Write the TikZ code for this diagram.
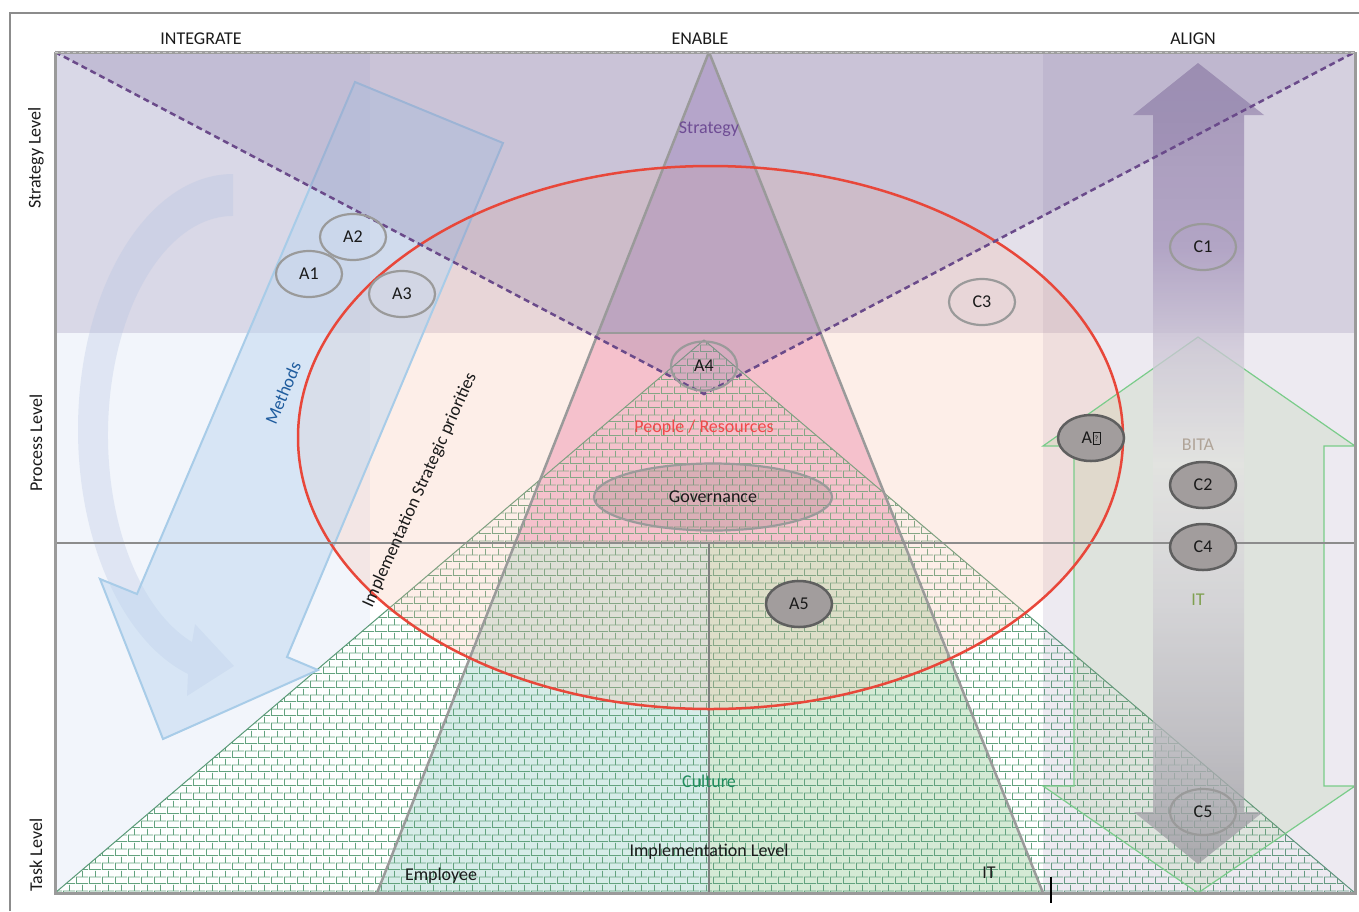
\documentclass[tikz,border=0pt]{standalone}
\usepackage{fontspec}
\setmainfont{Carlito}
\usetikzlibrary{shapes.geometric,patterns.meta}

\definecolor{vpurple}{HTML}{8070A0}
\definecolor{leftcol}{HTML}{F2F5FB}
\definecolor{stratfill}{HTML}{C7B7D9}
\definecolor{peoplefill}{HTML}{F5C4DB}
\definecolor{cultleft}{HTML}{D6ECE8}
\definecolor{cultright}{HTML}{D5EAD5}
\definecolor{brick}{HTML}{62A27E}
\definecolor{brickedge}{HTML}{5A9A78}
\definecolor{ellfill}{HTML}{F8B8A0}
\definecolor{redline}{HTML}{E8473A}
\definecolor{trapline}{HTML}{9A9A9A}
\definecolor{vdash}{HTML}{6A4A8A}
\definecolor{curvefill}{HTML}{B4C3E1}
\definecolor{methfill}{HTML}{BED7F0}
\definecolor{methline}{HTML}{A8CCE8}
\definecolor{bitafill}{HTML}{8CBE6E}
\definecolor{bitaline}{HTML}{7ACC8A}
\definecolor{ellgray}{HTML}{9A9A9A}
\definecolor{darkfill}{HTML}{A29D9D}
\definecolor{darkline}{HTML}{5F5F5F}
\definecolor{govfill}{HTML}{807070}
\definecolor{txt}{HTML}{1A1A1A}
\definecolor{strattext}{HTML}{6E4C94}
\definecolor{peopletext}{HTML}{F04A4A}
\definecolor{culttext}{HTML}{1E8C5C}
\definecolor{bitatext}{HTML}{B0A498}
\definecolor{ittext}{HTML}{7FA050}
\definecolor{methtext}{HTML}{1F5C9E}
\definecolor{ash0}{RGB}{153,150,158}
\definecolor{ash1}{RGB}{182,179,187}
\definecolor{ash2}{RGB}{210,208,213}
\definecolor{ash3}{RGB}{228,227,226}
\definecolor{ash4}{RGB}{205,198,214}
\definecolor{ash5}{RGB}{167,151,189}
\definecolor{ash6}{RGB}{150,134,172}

\pgfdeclareverticalshading{alignshade}{100bp}{color(0bp)=(ash0); color(25bp)=(ash0); color(32.5bp)=(ash1); color(41.5bp)=(ash2); color(50bp)=(ash3); color(57bp)=(ash4); color(63.5bp)=(ash5); color(75bp)=(ash6); color(100bp)=(ash6)}

\tikzdeclarepattern{
  name=mybricks,
  type=uncolored,
  bounding box={(0pt,0pt) and (12.5pt,13.6pt)},
  tile size={(12.5pt,13.6pt)},
  code={
    \draw[line width=0.8pt] (0pt,0.4pt) -- (12.5pt,0.4pt)
      (0pt,7.2pt) -- (12.5pt,7.2pt)
      (0.4pt,0.4pt) -- (0.4pt,7.2pt)
      (6.65pt,7.2pt) -- (6.65pt,13.6pt);
  }
}

\begin{document}
\begin{tikzpicture}[x=1pt,y=-1pt,
  font=\fontsize{18}{21}\selectfont,
  lbl/.style={inner sep=0pt, text=txt},
  ell/.style={ellipse, draw=ellgray, line width=2.2pt, minimum width=66pt, minimum height=46pt, inner sep=0pt, text=txt},
  darkell/.style={ell, fill=darkfill, draw=darkline, line width=2.5pt}
]
\useasboundingbox (0,0) rectangle (1359,911);

% outer frame
\draw[color=black!45, line width=1.5pt] (10,911) -- (10,13) -- (1359,13);

% backgrounds
\fill[white] (55,52) rectangle (1355,893);
\fill[leftcol] (55,52) rectangle (370,893);
\fill[vpurple, opacity=0.21] (55,52) rectangle (1355,333);

% brick triangle base
\fill[white, opacity=0.9] (704,340) -- (55,893) -- (1355,893) -- cycle;

% pyramid fills
\fill[stratfill] (709,52) -- (820.6,333) -- (598.1,333) -- cycle;
\fill[peoplefill] (598.1,333) -- (820.6,333) -- (904,543) -- (515.2,543) -- cycle;
\fill[cultleft] (515.2,543) -- (709,543) -- (709,893) -- (377,893) -- cycle;
\fill[cultright] (709,543) -- (904,543) -- (1043,893) -- (709,893) -- cycle;

% bricks
\fill[pattern=mybricks, pattern color=brick] (704,340) -- (55,893) -- (1355,893) -- cycle;
\draw[brickedge, line width=1pt] (55,893) -- (704,340) -- (1355,893);

% right column
\fill[vpurple, opacity=0.14] (1043,52) rectangle (1355,893);

% big ellipse fill
\fill[ellfill, opacity=0.24] (710.5,437.5) ellipse[x radius=412.5, y radius=271.5];

% curved arrow
\fill[curvefill, opacity=0.3] (233,174) arc[start angle=-90, end angle=-253.1, x radius=155, y radius=255.5]
  -- (187,696) -- (234,666) -- (195,624) -- (192,642)
  arc[start angle=-250.85, end angle=-90, x radius=125, y radius=219.1] -- cycle;

% methods arrow
\filldraw[fill=methfill, fill opacity=0.5, draw=methline, line width=2pt, line join=miter]
  (355,82) -- (503,143) -- (287,657) -- (318,670) -- (163,739) -- (100,579) -- (137,594) -- cycle;

% BITA / IT double arrow
\filldraw[fill=bitafill, fill opacity=0.15, draw=bitaline, line width=1.2pt]
  (1198,337) -- (1355,446) -- (1324,446) -- (1324,786) -- (1355,786) -- (1198,893)
  -- (1043,786) -- (1074,786) -- (1074,446) -- (1043,446) -- cycle;

% ALIGN double arrow
\shade[shading=alignshade, fill opacity=0.75]
  (1198,63) -- (1264,115) -- (1244,115) -- (1244,812) -- (1263,812) -- (1198,864)
  -- (1134,812) -- (1153,812) -- (1153,115) -- (1133,115) -- cycle;

% V overlay
\fill[vpurple, opacity=0.25] (55,52) -- (704,394) -- (1355,52) -- cycle;

% pyramid outline
\draw[trapline, line width=2.5pt, line join=round] (377,893) -- (709,52) -- (1043,893);
\draw[trapline, line width=2.5pt] (598.1,333) -- (820.6,333) (515.2,543) -- (904,543);
\draw[black!50, line width=1.5pt] (709,543) -- (709,893);

% red ellipse
\draw[redline, line width=2.5pt] (710.5,437.5) ellipse[x radius=412.5, y radius=271.5];

% dashed V
\draw[vdash, line width=2.5pt, dash pattern=on 6pt off 4pt] (55,52) -- (704,394) -- (1355,52);

% level line
\draw[black!45, line width=1.2pt] (55,543) -- (1355,543);

% inner box borders
\draw[trapline, line width=3pt] (55,52) -- (55,893) -- (1355,893) -- (1355,52);
\draw[color=black!38, line width=3pt] (55,52) -- (1355,52);
\draw[color=black!20, line width=1pt, dash pattern=on 3pt off 3pt] (55,52) -- (1355,52);

% tick
\draw[black, line width=2pt] (1051,877) -- (1051,903);

% ellipse nodes
\node[ell] (A1) at (309,274) {A1};
\node[ell] (A2) at (353,237) {A2};
\node[ell] (A3) at (402,294) {A3};
\node[ell, minimum height=49pt] (A4) at (704,366) {A4};
\node[ell] (C1) at (1203,247) {C1};
\node[ell] (C3) at (982,302) {C3};
\node[ell] (C5) at (1203,812) {C5};
\node[darkell] (A6) at (1091,438) {A\kern0.5pt{\fboxsep=0pt\fboxrule=0.6pt\fbox{\makebox[6.5pt]{\rule{0pt}{11pt}\raisebox{2pt}{\fontsize{8}{8}\selectfont ?}}}}};
\node[darkell] (C2) at (1203,485) {C2};
\node[darkell] (C4) at (1203,547) {C4};
\node[darkell] (A5) at (799,604) {A5};
\node[ellipse, draw=ellgray, line width=2.2pt, fill=govfill, fill opacity=0.22, text opacity=1, minimum width=238pt, minimum height=67pt, inner sep=0pt, text=txt] (gov) at (713,497) {Governance};

% labels
\node[lbl] (integ) at (201,39) {INTEGRATE};
\node[lbl] (enable) at (700,39) {ENABLE};
\node[lbl] (align) at (1193,39) {ALIGN};
\node[lbl, rotate=90] (sl) at (36,158) {Strategy Level};
\node[lbl, rotate=90] (pl) at (36,443) {Process Level};
\node[lbl, rotate=90] (tl) at (36,855) {Task Level};
\node[lbl, text=strattext] (strat) at (709,129) {Strategy};
\node[lbl, text=peopletext] (people) at (704,428) {People / Resources};
\node[lbl, text=culttext] (cult) at (709,781) {Culture};
\node[lbl] (impl) at (709,852) {Implementation Level};
\node[lbl] (emp) at (441,876) {Employee};
\node[lbl] (itb) at (989,873) {IT};
\node[lbl, text=bitatext] (bita) at (1198,445) {BITA};
\node[lbl, text=ittext] (itr) at (1198,600) {IT};
\node[lbl, text=methtext, rotate=67] (meth) at (283,393) {Methods};
\node[lbl, rotate=65.8] (isp) at (420,490) {Implementation Strategic priorities};
\end{tikzpicture}
\end{document}
